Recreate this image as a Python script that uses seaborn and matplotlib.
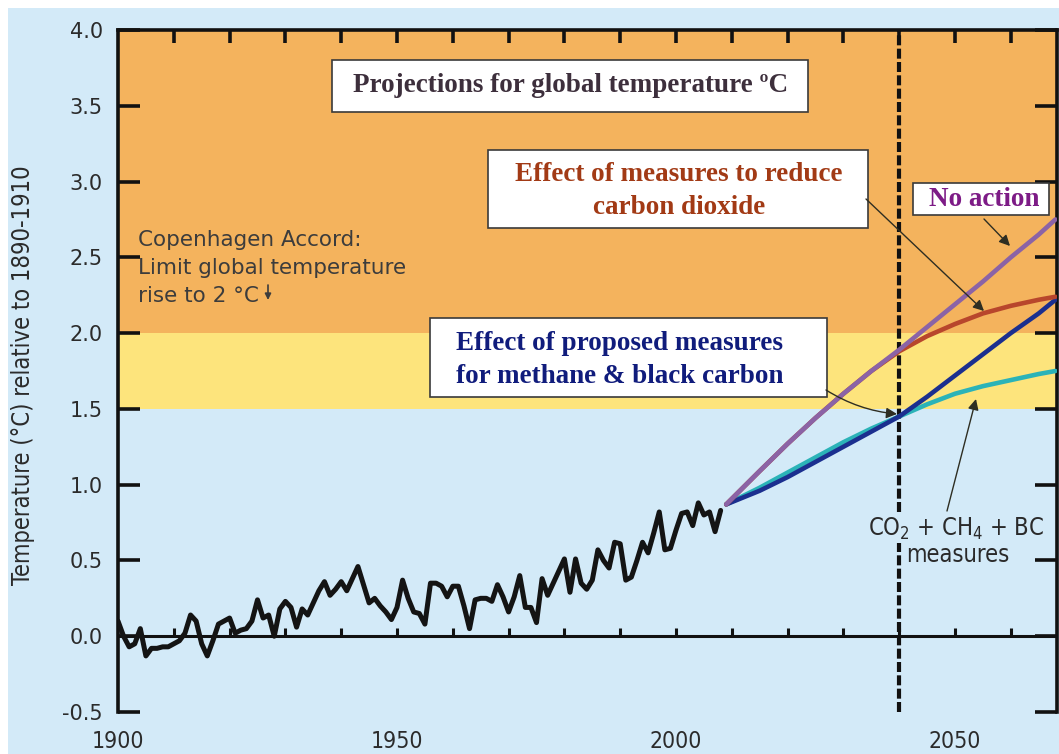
import numpy as np
import pandas as pd
import matplotlib
matplotlib.use("Agg")
import matplotlib.pyplot as plt
import seaborn as sns
from matplotlib.patches import Rectangle
from matplotlib.font_manager import FontProperties

# ---------------- data ----------------
hist_years = list(range(1900, 2009))
hist_temp = [
    0.10, 0.00, -0.07, -0.05, 0.05, -0.13, -0.08, -0.08, -0.07, -0.07,   # 1900s
    -0.05, -0.03, 0.02, 0.14, 0.10, -0.05, -0.13, -0.03, 0.08, 0.10,     # 1910s
    0.12, 0.02, 0.04, 0.05, 0.10, 0.24, 0.12, 0.14, 0.00, 0.18,          # 1920s
    0.23, 0.19, 0.06, 0.18, 0.14, 0.22, 0.30, 0.36, 0.27, 0.31,          # 1930s
    0.36, 0.30, 0.38, 0.46, 0.34, 0.22, 0.25, 0.20, 0.16, 0.11,          # 1940s
    0.19, 0.37, 0.25, 0.16, 0.15, 0.08, 0.35, 0.35, 0.33, 0.26,          # 1950s
    0.33, 0.33, 0.20, 0.05, 0.24, 0.25, 0.25, 0.23, 0.34, 0.26,          # 1960s
    0.16, 0.26, 0.40, 0.19, 0.19, 0.09, 0.38, 0.27, 0.35, 0.43,          # 1970s
    0.51, 0.29, 0.51, 0.35, 0.31, 0.37, 0.57, 0.50, 0.45, 0.62,          # 1980s
    0.61, 0.37, 0.39, 0.50, 0.62, 0.55, 0.68, 0.82, 0.57, 0.58,          # 1990s
    0.70, 0.81, 0.82, 0.73, 0.88, 0.80, 0.82, 0.69, 0.83,                # 2000s
]

proj_years = [2009, 2015, 2020, 2025, 2030, 2035, 2040, 2045, 2050, 2055, 2060, 2065, 2068]
no_action = [0.87, 1.09, 1.27, 1.44, 1.60, 1.75, 1.89, 2.04, 2.19, 2.34, 2.50, 2.65, 2.75]
co2_measures = [0.87, 1.09, 1.27, 1.44, 1.60, 1.75, 1.88, 1.98, 2.06, 2.13, 2.18, 2.22, 2.24]
ch4_bc_measures = [0.87, 0.96, 1.05, 1.15, 1.25, 1.35, 1.45, 1.58, 1.72, 1.86, 2.00, 2.13, 2.22]
all_measures = [0.87, 0.98, 1.08, 1.18, 1.28, 1.37, 1.45, 1.53, 1.60, 1.65, 1.69, 1.73, 1.75]

scenario_names = ["CO2 + CH4 + BC", "Methane & black carbon", "Carbon dioxide", "No action"]
scenario_colors = ["#2bb3b8", "#1b2f8f", "#b8462c", "#8b63a6"]

y_ticks = [-0.5, 0.0, 0.5, 1.0, 1.5, 2.0, 2.5, 3.0, 3.5, 4.0]
x_label_years = [1900, 1950, 2000, 2050]
decade_ticks = list(range(1910, 2070, 10))
target_year = 2040

# ---------------- styling ----------------
LIGHT_BLUE = "#d3eaf8"
ORANGE = "#f4b35d"
YELLOW = "#fde47c"

sns.set_theme(style="white")
plt.rcParams["font.family"] = ["DejaVu Sans"]
plt.rcParams["mathtext.fontset"] = "custom"
plt.rcParams["mathtext.rm"] = "DejaVu Sans:stretch=condensed"
plt.rcParams["mathtext.it"] = "DejaVu Sans:stretch=condensed"
COND = FontProperties(family="DejaVu Sans", stretch="condensed")
SERIF = ["Liberation Serif", "DejaVu Serif"]

hist_df = pd.DataFrame({"year": hist_years, "temp": hist_temp})
proj_df = pd.concat([
    pd.DataFrame({"year": proj_years, "temp": vals, "scenario": name})
    for name, vals in zip(scenario_names, [all_measures, ch4_bc_measures, co2_measures, no_action])
], ignore_index=True)

W, H = 1059, 754
fig = plt.figure(figsize=(W / 100, H / 100), dpi=100)
fig.patch.set_facecolor("white")
fig.add_artist(Rectangle((8 / W, 0), 1, 1 - 8 / H, transform=fig.transFigure,
                         facecolor=LIGHT_BLUE, edgecolor="none", zorder=-10))

L, R, T, B = 118, 1057, 30, 712
ax = fig.add_axes([L / W, 1 - B / H, (R - L) / W, (B - T) / H])
ax.set_facecolor(LIGHT_BLUE)
ax.set_xlim(1900, 1900 + (R - L) / 5.58)
ax.set_ylim(-0.5, 4.0)

ax.axhspan(2.0, 4.0, color=ORANGE, zorder=0, lw=0)
ax.axhspan(1.5, 2.0, color=YELLOW, zorder=0, lw=0)

# zero line with upward decade ticks
ax.axhline(0, color="#111111", lw=2.2, zorder=2)
ax.vlines(decade_ticks, 0, 0.055, color="#111111", lw=2.2, zorder=2)

# target-year dashed line
ax.axvline(target_year, color="#111111", lw=3, linestyle=(0, (2.4, 0.8)), zorder=3)

sns.lineplot(data=hist_df, x="year", y="temp", color="#141414", lw=3.6, ax=ax,
             zorder=4, legend=False)
sns.lineplot(data=proj_df, x="year", y="temp", hue="scenario", hue_order=scenario_names,
             palette=scenario_colors, lw=3.3, ax=ax, zorder=4, legend=False, sort=False)

# axes / ticks
for s in ["left", "right", "top"]:
    ax.spines[s].set_visible(True)
    ax.spines[s].set_color("#111111")
    ax.spines[s].set_linewidth(2.6)
ax.spines["bottom"].set_visible(False)

ax.set_yticks(y_ticks)
ax.set_yticklabels([f"{v:.1f}" for v in y_ticks])
ax.tick_params(axis="y", direction="in", length=16, width=2.6, color="#111111",
               left=True, right=True, labelleft=True, labelright=False,
               labelsize=15, labelcolor="#2b2b2b", pad=11)

ax.set_xticks(x_label_years)
ax.set_xticklabels([str(y) for y in x_label_years], fontproperties=COND, fontsize=16.5,
                   color="#2b2b2b")
ax.tick_params(axis="x", bottom=True, length=0, pad=13)

top = ax.secondary_xaxis("top")
top.set_xticks(decade_ticks)
top.set_xticklabels([])
top.tick_params(direction="in", length=9, width=2.6, color="#111111")
top.spines["top"].set_visible(False)

ax.set_xlabel("")
ax.set_ylabel("Temperature (°C) relative to 1890-1910", fontproperties=COND, fontsize=17,
              color="#2b2b2b")
ax.yaxis.set_label_coords((35 - L) / (R - L), (B - 375) / (B - T))


def P(xp, yp):
    return ((xp - L) / (R - L), (B - yp) / (B - T))


def box(x0, y0, x1, y1):
    r = Rectangle(P(x0, y1), (x1 - x0) / (R - L), (y1 - y0) / (B - T), transform=ax.transAxes,
                  facecolor="white", edgecolor="#3a3a3a", lw=1.2, zorder=6)
    ax.add_patch(r)


def arrow(x0, y0, x1, y1, rad=0.0):
    ax.annotate("", xy=P(x1, y1), xytext=P(x0, y0), xycoords="axes fraction",
                textcoords="axes fraction",
                arrowprops=dict(arrowstyle="-|>", color="#2e2e22", lw=1.0, mutation_scale=16,
                                shrinkA=0, shrinkB=0, connectionstyle=f"arc3,rad={rad}"),
                zorder=7)


BOX_FS = 19.5

# title box
box(332, 60, 808, 112)
ax.text(*P(571, 86), "Projections for global temperature ºC", transform=ax.transAxes,
        ha="center", va="center", fontfamily=SERIF, fontweight="bold", fontsize=BOX_FS,
        color="#3d2f3c", zorder=8)

# CO2 box
box(488, 150, 868, 228)
ax.text(*P(679, 191), "Effect of measures to reduce\ncarbon dioxide", transform=ax.transAxes,
        ha="center", va="center", fontfamily=SERIF, fontweight="bold", fontsize=BOX_FS,
        color="#a23a15", linespacing=1.45, zorder=8)
arrow(866, 199, 984, 311)

# No action box
box(913, 183, 1049, 215)
ax.text(*P(984, 200), "No action", transform=ax.transAxes, ha="center", va="center",
        fontfamily=SERIF, fontweight="bold", fontsize=BOX_FS, color="#7d1b86", zorder=8)
arrow(984, 219, 1010, 246)

# methane & BC box
box(430, 318, 827, 397)
ax.text(*P(456, 360), "Effect of proposed measures\nfor methane & black carbon",
        transform=ax.transAxes, ha="left", va="center", fontfamily=SERIF, fontweight="bold",
        fontsize=BOX_FS, color="#101c7c", linespacing=1.45, zorder=8)
arrow(826, 390, 897, 414, rad=0.12)

# Copenhagen accord
ax.text(*P(138, 230), "Copenhagen Accord:\nLimit global temperature\nrise to 2 °C",
        transform=ax.transAxes, ha="left", va="top", fontsize=15.5, color="#3c3c3c",
        linespacing=1.5, zorder=8)
ax.annotate("", xy=P(268, 300), xytext=P(268, 285), xycoords="axes fraction",
            textcoords="axes fraction",
            arrowprops=dict(arrowstyle="-|>", color="#3c3c3c", lw=1.2, mutation_scale=9,
                            shrinkA=0, shrinkB=0), zorder=8)

# combined measures label
ax.text(*P(956, 529), "CO$_2$ + CH$_4$ + BC", transform=ax.transAxes,
        ha="center", va="center", fontproperties=COND, fontsize=17, color="#2a2a2a",
        zorder=8, bbox=dict(facecolor=LIGHT_BLUE, edgecolor="none", pad=0.5))
ax.text(*P(958, 555), "measures", transform=ax.transAxes,
        ha="center", va="center", fontproperties=COND, fontsize=17, color="#2a2a2a",
        zorder=8)
arrow(947, 511, 976, 399)

fig.savefig("out.png", dpi=100, facecolor=fig.get_facecolor())
